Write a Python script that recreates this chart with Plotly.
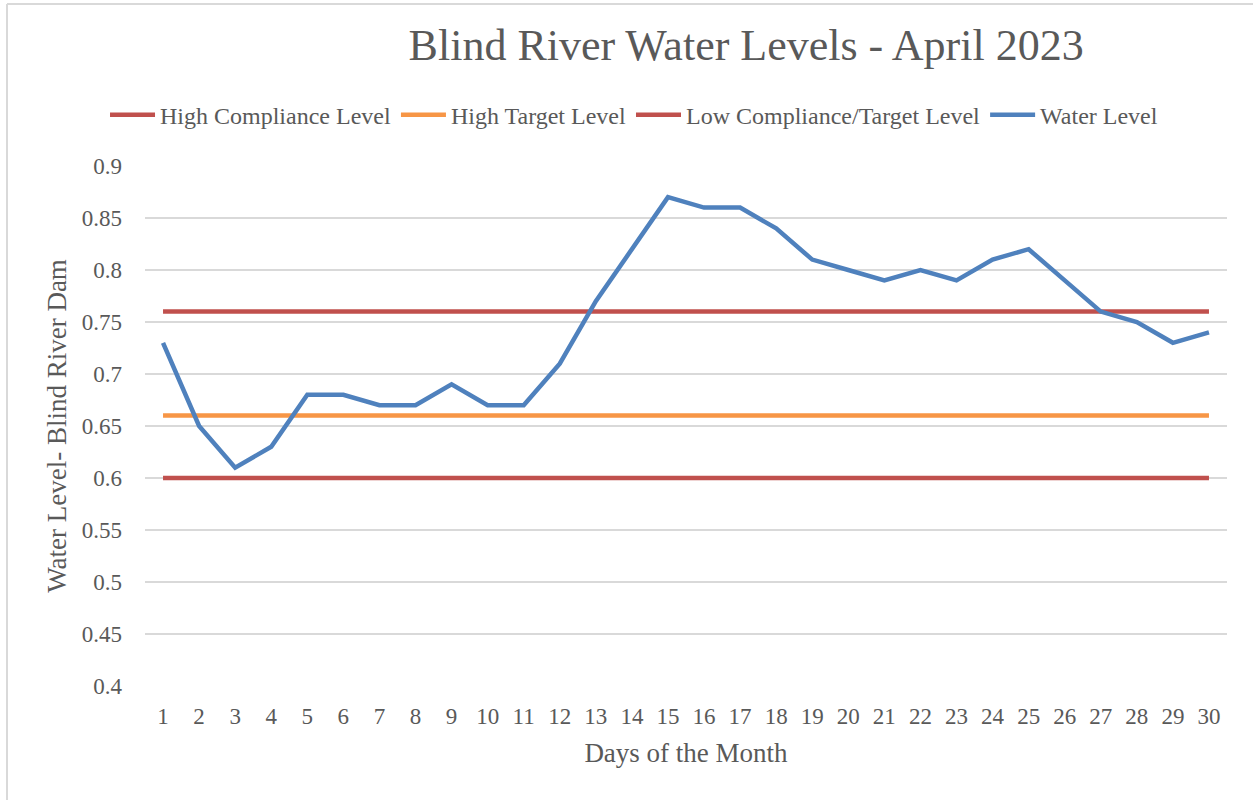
import plotly.graph_objects as go

days = list(range(1, 31))
water_level = [0.73, 0.65, 0.61, 0.63, 0.68, 0.68, 0.67, 0.67, 0.69, 0.67,
               0.67, 0.71, 0.77, 0.82, 0.87, 0.86, 0.86, 0.84, 0.81, 0.80,
               0.79, 0.80, 0.79, 0.81, 0.82, 0.79, 0.76, 0.75, 0.73, 0.74]
high_compliance = [0.76] * 30
high_target = [0.66] * 30
low_compliance_target = [0.60] * 30
y_ticks = [0.4, 0.45, 0.5, 0.55, 0.6, 0.65, 0.7, 0.75, 0.8, 0.85, 0.9]
y_tick_labels = ["0.4", "0.45", "0.5", "0.55", "0.6", "0.65", "0.7", "0.75", "0.8", "0.85", "0.9"]

FONT = "Liberation Serif"
GRAY = "#595959"

fig = go.Figure()
series = [
    ("High Compliance Level", high_compliance, "#C0504D"),
    ("High Target Level", high_target, "#F79646"),
    ("Low Compliance/Target Level", low_compliance_target, "#C0504D"),
    ("Water Level", water_level, "#4F81BD"),
]
for name, vals, color in series:
    fig.add_trace(go.Scatter(x=days, y=vals, mode="lines", name=name,
                             line=dict(color=color, width=4.5)))

fig.update_layout(
    width=1253, height=800,
    paper_bgcolor="white", plot_bgcolor="white",
    margin=dict(l=145, r=26, t=166, b=114),
    font=dict(family=FONT, color=GRAY, size=20),
    title=dict(text="Blind River Water Levels - April 2023", x=0.5955, xanchor="center",
               xref="container", y=0.944, yanchor="middle",
               font=dict(size=44, color=GRAY, family=FONT)),
    legend=dict(orientation="h", x=0.506, xanchor="center", xref="container",
                y=0.856, yanchor="middle", yref="container",
                font=dict(size=24, color=GRAY, family=FONT),
                itemwidth=45, tracegroupgap=0),
    showlegend=True,
)
fig.update_xaxes(range=[0.5, 30.5], tickmode="array", tickvals=days,
                 ticktext=[str(d) for d in days], showgrid=False, zeroline=False,
                 showline=False, ticks="", ticklabelstandoff=14,
                 tickfont=dict(size=23, color=GRAY),
                 title=dict(text="Days of the Month", font=dict(size=27, color=GRAY), standoff=15))
fig.update_yaxes(range=[0.4, 0.9], tickmode="array", tickvals=y_ticks, ticktext=y_tick_labels,
                 showgrid=True, gridcolor="#D9D9D9", gridwidth=1.5, zeroline=False,
                 showline=False, ticks="", ticklabelstandoff=22,
                 tickfont=dict(size=23, color=GRAY),
                 title=dict(text="Water Level- Blind River Dam", font=dict(size=27, color=GRAY), standoff=7))

# chart border (left and top edges visible)
fig.add_shape(type="line", xref="paper", yref="paper",
              x0=(7 - 145) / 1082, x1=(1253 - 145) / 1082, y0=(800 - 4 - 114) / 520, y1=(800 - 4 - 114) / 520,
              line=dict(color="#D9D9D9", width=2))
fig.add_shape(type="line", xref="paper", yref="paper",
              x0=(7 - 145) / 1082, x1=(7 - 145) / 1082, y0=(800 - 4 - 114) / 520, y1=-114 / 520,
              line=dict(color="#D9D9D9", width=2))

fig.write_html("out.html", config={"displayModeBar": False},
               post_script="document.body.style.margin='0';")
